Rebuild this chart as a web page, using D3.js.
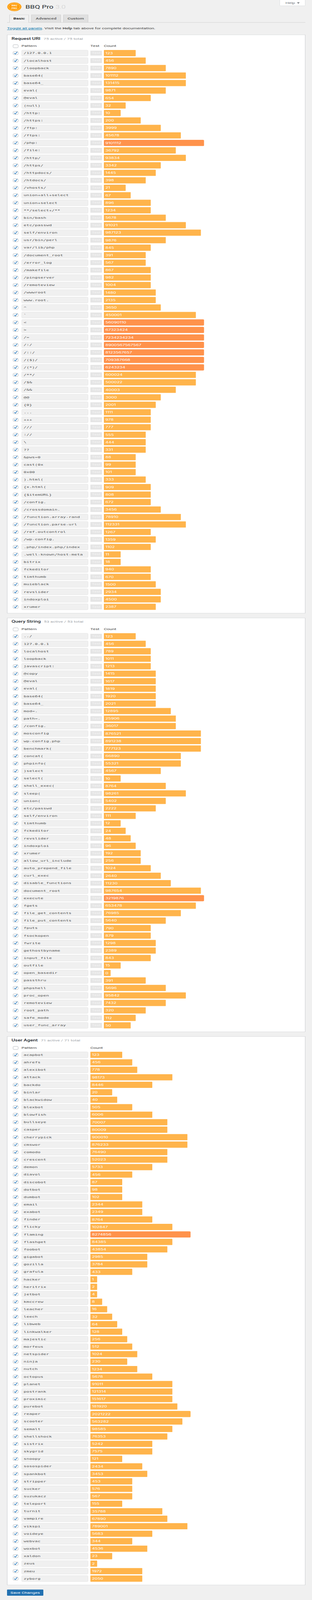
<!DOCTYPE html>
<html>
<head>
<meta charset="utf-8">
<title>BBQ Pro</title>
<script src="https://cdn.jsdelivr.net/npm/d3@7/dist/d3.min.js"></script>
<style>
  html, body { margin: 0; padding: 0; background: #f0f0f0; }
  svg { display: block; }
  text { font-family: Roboto, sans-serif; font-size: 12px; }
  .pattern { font-family: "DejaVu Sans Mono", monospace; fill: #555; }
  .count { font-family: Inter, sans-serif; font-size: 11.7px; fill: #fff; }
</style>
</head>
<body>
<svg id="page"></svg>
<script>
// values
const uriPatterns = ["/127.0.0.1", "/localhost", "/loopback", "base64(", "base64_", "eval(", "@eval", "(null)", "/http:", "/https:", "/ftp:", "/ftps:", "/php:", "/file:", "/http/", "/https/", "/httpdocs/", "/htdocs/", "/vhosts/", "union+all+select", "union+select", "**/select+/**", "bin/bash", "etc/passwd", "self/environ", "usr/bin/perl", "var/lib/php", "/document_root", "/error_log", "/makefile", "/pingserver", "/remoteview", "/wwwroot", "www.root.", "^", "`", "<", ">", "/=", "/:/", "/::/", "/($)/", "/(*)/", "/**/", "/$&", "/&&", "@@", "{0}", "...", "+++", "///", "://", "\\", "??", "&pws=0", "cast(0x", "0x00", ").html(", "{x.html(", "{$itemURL}", "/config.", "/crossdomain.", "/function.array-rand", "/function.parse-url", "/ref.outcontrol", "/wp-config.", ".php/index.php/index", ".well-known/host-meta", "bitrix", "fckeditor", "timthumb", "muieblack", "revslider", "indoxploi", "xrumer"];
const uriCounts = [123, 456, 7890, 101112, 131415, 9871, 654, 32, 10, 200, 3999, 45678, 9101112, 36792, 93834, 3342, 1445, 398, 21, 67, 896, 1234, 5678, 91021, 987123, 9876, 845, 391, 567, 867, 982, 1004, 1480, 2135, 3650, 450001, 56090110, 67323424, 7234234234, 8900567567567, 8123567657, 709387668, 6243234, 600024, 500022, 40003, 3000, 2001, 1111, 978, 777, 555, 444, 331, 88, 99, 101, 333, 909, 808, 672, 3456, 78910, 112331, 1267, 1359, 1102, 11, 18, 940, 670, 1500, 2934, 4500, 2387];

const queryPatterns = ["../", "127.0.0.1", "localhost", "loopback", "javascript:", "@copy", "@eval", "eval(", "base64(", "base64_", "mod=.", "path=.", "/config.", "mosconfig", "wp-config.php", "benchmark(", "concat(", "phpinfo(", ")select", "select(", "shell_exec(", "sleep(", "union(", "etc/passwd", "self/environ", "timthumb", "fckeditor", "revslider", "indoxploi", "xrumer", "allow_url_include", "auto_prepend_file", "curl_exec", "disable_functions", "document_root", "execute", "fgets", "file_get_contents", "file_put_contents", "fputs", "fsockopen", "fwrite", "gethostbyname", "input_file", "outfile", "open_basedir", "passthru", "phpshell", "proc_open", "remoteview", "root_path", "safe_mode", "user_func_array"];
const queryCounts = [123, 456, 789, 1011, 1213, 1415, 1617, 1819, 1920, 2021, 12895, 25906, 36017, 876521, 891238, 777123, 66890, 55321, 4567, 10, 8764, 98261, 5402, 2222, 111, 12, 24, 48, 96, 192, 256, 1024, 2640, 11230, 987654, 3219876, 653478, 76985, 5640, 790, 879, 1298, 2389, 843, 15, 0, 391, 5696, 95842, 7432, 320, 112, 50];

const agentPatterns = ["acapbot", "ahrefs", "alexibot", "attack", "backdo", "binlar", "blackwidow", "blexbot", "blowfish", "bullseye", "casper", "cherrypick", "cmswor", "comodo", "crescent", "demon", "diavol", "discobot", "dotbot", "dumbot", "email", "exabot", "finder", "flicky", "flaming", "flashget", "foobot", "gigabot", "gozilla", "grafula", "hacker", "heritrix", "jetbot", "kmccrew", "leacher", "leech", "libweb", "linkwalker", "majestic", "morfeus", "netspider", "ninja", "nutch", "octopus", "planet", "postrank", "proximic", "purebot", "reaper", "scooter", "semalt", "shellshock", "sistrix", "skygrid", "snoopy", "sosospider", "spankbot", "stripper", "sucker", "suzukacz", "teleport", "turnit", "vampire", "vikspi", "voideye", "webvac", "woxbot", "xaldon", "zeus", "zmeu", "zyborg"];
const agentCounts = [123, 456, 778, 98173, 8446, 20, 40, 505, 6006, 70007, 80009, 900010, 876233, 76490, 52023, 5733, 456, 87, 98, 102, 2344, 2349, 8764, 102847, 8274856, 84385, 43854, 2985, 3784, 433, 1, 2, 4, 8, 16, 32, 64, 128, 256, 512, 1024, 230, 1234, 5678, 91011, 121314, 151617, 181920, 2021222, 563282, 98585, 76353, 5242, 7575, 121, 2434, 3453, 453, 576, 567, 155, 35788, 67890, 789001, 5683, 344, 4536, 23, 2, 1972, 2050];

const sections = [
  { title: "Request URI", patterns: uriPatterns, counts: uriCounts, hasTest: true },
  { title: "Query String", patterns: queryPatterns, counts: queryCounts, hasTest: true },
  { title: "User Agent", patterns: agentPatterns, counts: agentCounts, hasTest: false }
];

const tabLabels = ["Basic", "Advanced", "Custom"];

// the bars grow in steps, so the widths come from a threshold scale
const widthBreaks = [5, 9, 19, 39, 80, 160, 300, 600, 1280, 2500, 5000, 10000, 20000, 43000, 84000, 160000, 300000, 700000, 1000000];
const barWidth = d3.scaleThreshold()
  .domain(widthBreaks)
  .range(d3.range(19).map(k => 17.3 + 12.84 * k).concat(256.5));
const barColor = d3.scaleThreshold().domain([3000000]).range(["#ffb44b", "#ff924b"]);
const barRadius = d3.scaleThreshold().domain([1000000]).range([1, 3]);

const PAGE_W = 799;
const PAGE_H = 6597;
const ROW_STEP = 30.85;
const ROW_HEIGHT = 25.5;
const PANEL_LEFT = 18;
const PANEL_RIGHT = 782;
const PATTERN_X = 55;
const PATTERN_W = 171;
const COL2_X = 231.5;
const TEST_W = 29.5;
const COL3_X = 266;

// 1:1 in a 799x6597 window; a window capped shorter than the page squeezes it so no row is lost
const svg = d3.select("#page")
  .attr("viewBox", `0 0 ${PAGE_W} ${PAGE_H}`)
  .attr("preserveAspectRatio", "none")
  .attr("width", PAGE_W)
  .attr("height", Math.min(PAGE_H, window.innerHeight));

function drawHeader() {
  // logo
  const logo = svg.append("g").attr("transform", "translate(36.7,28)");
  logo.append("circle").attr("r", 17.6).attr("fill", "#ff9d0a")
    .attr("stroke", "#ff9d0a").attr("stroke-width", 1.6).attr("stroke-dasharray", "2 1.6");
  logo.append("circle").attr("r", 14.6).attr("fill", "none").attr("stroke", "#ffe0ad").attr("stroke-width", 0.8);
  logo.selectAll("text").data(["BBQ", "PRO"]).join("text")
    .attr("text-anchor", "middle").attr("y", (d, i) => -2 + i * 10.5)
    .attr("fill", "#fff").style("font-size", "10px").style("font-weight", 500)
    .attr("textLength", 14.5).attr("lengthAdjust", "spacingAndGlyphs")
    .text(d => d);

  const title = svg.append("text").attr("x", 65).attr("y", 35)
    .style("font-size", "19.4px").attr("fill", "#23282d");
  title.append("tspan").text("BBQ Pro");
  title.append("tspan").attr("dx", 5).attr("fill", "#cfcfcf").style("font-weight", 300).text("3.0");

  // help tab
  svg.append("rect").attr("x", 716.5).attr("y", -3).attr("width", 65).attr("height", 27).attr("rx", 2)
    .attr("fill", "#fff").attr("stroke", "#d5d7da");
  svg.append("text").attr("x", 731).attr("y", 16.5).attr("fill", "#72777c").text("Help");
  svg.append("path").attr("d", "M760.5 9.5h7l-3.5 6z").attr("fill", "#72777c");

  // tabs
  svg.append("line").attr("x1", PANEL_LEFT).attr("x2", PANEL_RIGHT).attr("y1", 92.5).attr("y2", 92.5)
    .attr("stroke", "#ccc");
  const tabX = d3.scaleOrdinal().domain(tabLabels).range([24, 80, 162]);
  const tabW = d3.scaleOrdinal().domain(tabLabels).range([50, 76, 64]);
  const tab = svg.selectAll("g.tab").data(tabLabels).join("g").attr("class", "tab");
  tab.append("rect")
    .attr("x", d => tabX(d) + 0.5).attr("y", 61).attr("width", d => tabW(d) - 1)
    .attr("height", (d, i) => i === 0 ? 32 : 31.5)
    .attr("fill", (d, i) => i === 0 ? "#f0f0f0" : "#e0e0e0")
    .attr("stroke", "#ccc");
  tab.append("text")
    .attr("x", d => tabX(d) + tabW(d) / 2).attr("y", 81).attr("text-anchor", "middle")
    .attr("fill", (d, i) => i === 0 ? "#000" : "#555").style("font-weight", 500)
    .text(d => d);
  // hide the base line under the active tab
  svg.append("line").attr("x1", 25).attr("x2", 73).attr("y1", 92.5).attr("y2", 92.5).attr("stroke", "#f0f0f0");

  const intro = svg.append("text").attr("x", PANEL_LEFT).attr("y", 121).attr("fill", "#444");
  intro.append("tspan").attr("fill", "#0073aa").attr("text-decoration", "underline").text("Toggle all panels");
  intro.append("tspan").text(". Visit the ");
  intro.append("tspan").style("font-weight", 600).text("Help");
  intro.append("tspan").text(" tab above for complete documentation.");
}

function drawCheckbox(sel, cy, checked) {
  const box = sel.append("g").attr("transform", `translate(33,${cy - 7})`);
  box.append("rect").attr("x", 0.5).attr("y", 0.5).attr("width", 13).attr("height", 13).attr("rx", 3)
    .attr("fill", "#fff").attr("stroke", "#a3a8ad");
  if (checked) {
    box.append("path").attr("d", "M3.2 6.8l3 4.2 4.8-9").attr("fill", "none")
      .attr("stroke", "#2a7cc0").attr("stroke-width", 1.8);
  }
}

/** Draw one white panel with its table of patterns and count bars; returns its bottom edge. */
function drawPanel(section, top) {
  const n = section.counts.length;
  const firstCenter = top + 76;
  const bottom = firstCenter + (n - 1) * ROW_STEP + 27;
  const barX = section.hasTest ? COL3_X : COL2_X;

  const y = d3.scaleBand()
    .domain(d3.range(n))
    .range([firstCenter - ROW_STEP / 2, firstCenter - ROW_STEP / 2 + n * ROW_STEP])
    .paddingInner(1 - ROW_HEIGHT / ROW_STEP)
    .paddingOuter((1 - ROW_HEIGHT / ROW_STEP) / 2);

  const panel = svg.append("g").attr("class", "panel");
  panel.append("rect")
    .attr("x", PANEL_LEFT + 0.5).attr("y", top + 0.5)
    .attr("width", PANEL_RIGHT - PANEL_LEFT - 1).attr("height", bottom - top - 1)
    .attr("fill", "#fff").attr("stroke", "#c9cbce");

  const heading = panel.append("text").attr("x", 29.5).attr("y", top + 20.5);
  heading.append("tspan").attr("fill", "#23282d").style("font-size", "13.5px").style("font-weight", 500).text(section.title);
  heading.append("tspan").attr("dx", 8).attr("fill", "#a0a5aa").style("font-size", "12.2px")
    .text(`${n} active / ${n} total`);

  const headY = top + 51;
  drawCheckbox(panel, top + 47.5, false);
  panel.append("text").attr("x", PATTERN_X).attr("y", headY).attr("fill", "#444").text("Pattern");
  if (section.hasTest) panel.append("text").attr("x", COL2_X).attr("y", headY).attr("fill", "#444").text("Test");
  panel.append("text").attr("x", barX).attr("y", headY).attr("fill", "#444").text("Count");

  const row = panel.selectAll("g.row").data(section.counts).join("g").attr("class", "row");
  row.each(function (d, i) {
    drawCheckbox(d3.select(this), y(i) + y.bandwidth() / 2, true);
  });

  row.append("rect")
    .attr("x", PATTERN_X + 0.5).attr("y", (d, i) => y(i) + 0.5)
    .attr("width", PATTERN_W - 1).attr("height", y.bandwidth() - 1).attr("rx", 3)
    .attr("fill", "#f0f0f0").attr("stroke", "#e2e2e2");
  row.append("text").attr("class", "pattern")
    .attr("x", 60.5).attr("y", (d, i) => y(i) + y.bandwidth() / 2 + 4)
    .text((d, i) => section.patterns[i]);

  if (section.hasTest) {
    row.append("rect")
      .attr("x", COL2_X).attr("y", (d, i) => y(i) + 2.6)
      .attr("width", TEST_W).attr("height", y.bandwidth() - 5.2)
      .attr("fill", "#e5e5e5");
    row.append("text")
      .attr("x", COL2_X + TEST_W / 2).attr("y", (d, i) => y(i) + y.bandwidth() / 2 + 3.5)
      .attr("text-anchor", "middle").attr("fill", "#f4f4f4").style("font-size", "11.5px")
      .text("Test");
  }

  row.append("rect")
    .attr("x", barX).attr("y", (d, i) => y(i))
    .attr("width", d => barWidth(d)).attr("height", y.bandwidth())
    .attr("rx", d => barRadius(d))
    .attr("fill", d => barColor(d));
  row.append("text").attr("class", "count")
    .attr("x", barX + 4).attr("y", (d, i) => y(i) + y.bandwidth() / 2 + 4.4)
    .text(d => d);

  return bottom;
}

drawHeader();

let panelTop = 143;
sections.forEach(section => {
  panelTop = drawPanel(section, panelTop) + 18.6;
});

// save button
svg.append("rect").attr("x", PANEL_LEFT).attr("y", panelTop - 0.6).attr("width", 93).attr("height", 25.5).attr("rx", 2)
  .attr("fill", "#2271b1");
svg.append("text").attr("x", PANEL_LEFT + 46.5).attr("y", panelTop + 16.5).attr("text-anchor", "middle")
  .attr("fill", "#fff").text("Save Changes");
</script>
</body>
</html>
